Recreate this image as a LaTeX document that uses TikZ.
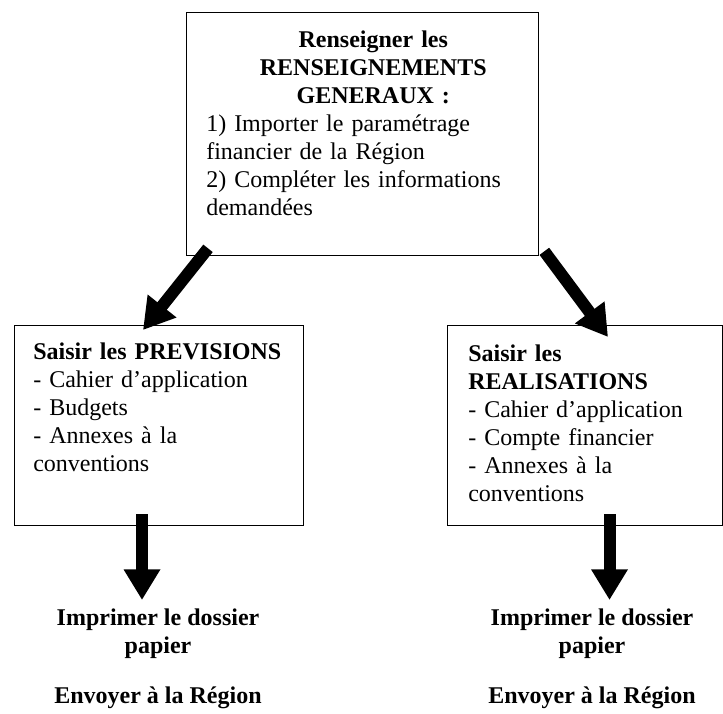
\documentclass[tikz,border=0pt]{standalone}
\usepackage{fontspec}
\setmainfont{Liberation Serif}
\usepackage{tikz}
\usetikzlibrary{arrows.meta,positioning,calc}
\tikzstyle{box} = [rectangle, draw=black, line width=1pt, anchor=north west, inner sep=0pt]
\tikzstyle{boxtext} = [anchor=north west, inner sep=0pt, align=left, font=\fontsize{18}{21}\selectfont]
\tikzstyle{outtext} = [anchor=north, inner sep=0pt, align=center, font=\fontsize{18}{21}\selectfont\bfseries]
\tikzstyle{bigarrow} = [-{Triangle[length=23pt,width=26pt]}, line width=9pt, black]

\begin{document}
\begin{tikzpicture}[x=0.75pt,y=-0.75pt]
\useasboundingbox (0,0) rectangle (723,713);
\node[box, minimum width=264pt, minimum height=182.25pt] (gen) at (186,12) {};
\node[boxtext, text width=250.5pt] (gentext) at (206,31) {{\centering\bfseries Renseigner les\\RENSEIGNEMENTS\\GENERAUX :\par}1) Importer le paramétrage\\financier de la Région\\2) Compléter les informations\\demandées};

\node[box, minimum width=216.75pt, minimum height=150pt] (prev) at (14,325) {};
\node[boxtext, text width=200pt] (prevtext) at (33,343) {\textbf{Saisir les PREVISIONS}\\- Cahier d’application\\- Budgets\\- Annexes à la\\conventions};

\node[box, minimum width=206.25pt, minimum height=150pt] (real) at (447,325) {};
\node[boxtext, text width=190pt] (realtext) at (468,345) {\textbf{Saisir les}\\\textbf{REALISATIONS}\\- Cahier d’application\\- Compte financier\\- Annexes à la\\conventions};

\node[outtext] (prevout) at (158,609) {Imprimer le dossier\\papier\\[16pt]Envoyer à la Région};
\node[outtext] (realout) at (592,609) {Imprimer le dossier\\papier\\[16pt]Envoyer à la Région};

\draw[bigarrow] ($(gen.south west)+(22,-8)$) -- ($(prev.north west)+(129,5)$);
\draw[bigarrow] ($(gen.south east)+(5,-5)$) -- ($(real.north west)+(161,12)$);
\draw[bigarrow] ($(prev.south west)+(128,-12)$) -- ($(prevout.north)+(-16,-9)$);
\draw[bigarrow] ($(real.south west)+(162.5,-12)$) -- ($(realout.north)+(17.5,-9)$);
\end{tikzpicture}
\end{document}
